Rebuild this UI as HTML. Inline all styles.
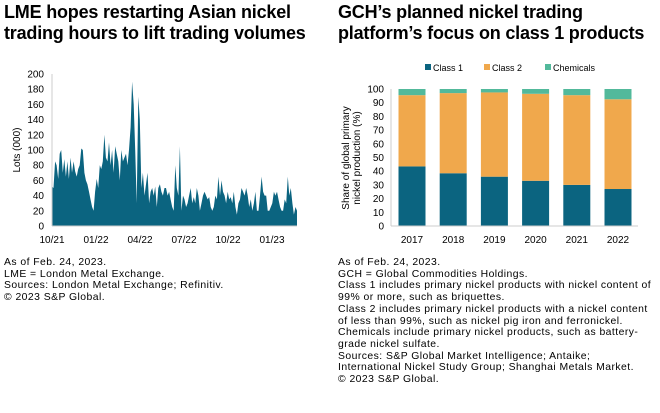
<!DOCTYPE html>
<html><head><meta charset="utf-8"><style>
body{margin:0;width:660px;height:413px;background:#fff;font-family:"Liberation Sans",sans-serif;color:#000;overflow:hidden;position:relative}
.t{position:absolute;font-weight:bold;font-size:18px;line-height:21px;letter-spacing:-0.2px}
.n{position:absolute;font-size:10.4px;line-height:11.7px;letter-spacing:0.45px}
svg{position:absolute;left:0;top:0}
</style></head><body>
<div class="t" style="left:4px;top:2px">LME hopes restarting Asian nickel<br>trading hours to lift trading volumes</div>
<div class="t" style="left:338px;top:2px">GCH’s planned nickel trading<br>platform’s focus on class 1 products</div>
<div class="n" style="left:4px;top:257px">As of Feb. 24, 2023.<br>LME = London Metal Exchange.<br>Sources: London Metal Exchange; Refinitiv.<br>© 2023 S&amp;P Global.</div>
<div class="n" style="left:338px;top:257px">As of Feb. 24, 2023.<br>GCH = Global Commodities Holdings.<br>Class 1 includes primary nickel products with nickel content of<br>99% or more, such as briquettes.<br>Class 2 includes primary nickel products with a nickel content<br>of less than 99%, such as nickel pig iron and ferronickel.<br>Chemicals include primary nickel products, such as battery-<br>grade nickel sulfate.<br>Sources: S&amp;P Global Market Intelligence; Antaike;<br>International Nickel Study Group; Shanghai Metals Market.<br>© 2023 S&amp;P Global.</div>
<svg id="c" width="660" height="413"></svg>
<script>
const lots=[52,50,85,80,62,95,100,70,88,65,85,62,90,70,85,72,65,75,80,102,100,70,60,55,45,35,25,20,45,62,50,80,75,85,120,90,85,110,80,100,70,105,95,85,60,100,85,90,95,80,100,130,190,160,100,30,170,140,50,70,40,55,70,30,45,50,40,52,25,50,55,45,40,50,50,40,45,35,25,20,80,50,40,105,20,40,35,25,30,40,50,30,38,30,50,40,20,30,40,45,40,35,38,25,20,25,40,35,65,40,60,45,40,30,45,35,38,30,45,25,15,30,35,50,45,40,50,40,25,35,20,30,45,20,20,40,65,45,40,40,20,20,25,30,45,40,45,35,25,20,20,35,30,65,40,50,30,15,25,20];
const leftTicks=[0,20,40,60,80,100,120,140,160,180,200];
const dateLabels=["10/21","01/22","04/22","07/22","10/22","01/23"];
const years=["2017","2018","2019","2020","2021","2022"];
const class1=[43.5,38.5,36,33,30,27];
const class2=[52,58.5,61.5,63.5,65.5,65.5];
const chem=[4.5,3,2.5,3.5,4.5,7.5];
const rightTicks=[0,10,20,30,40,50,60,70,80,90,100];
const svg=document.getElementById('c');const NS='http://www.w3.org/2000/svg';
function mk(t,a,txt){const e=document.createElementNS(NS,t);for(const k in a)e.setAttribute(k,a[k]);if(txt!==undefined)e.textContent=txt;svg.appendChild(e);return e;}
// left chart
const lx0=52,lx1=297,ly0=226,ly1=74;
const ly=v=>ly0-(v/200)*(ly0-ly1);
const lx=i=>lx0+i*(lx1-lx0)/(lots.length-1);
leftTicks.forEach(v=>{const e=mk('text',{x:44,y:ly(v)+3.5,'text-anchor':'end','font-size':10,'font-family':'Liberation Sans'},v);

});
let d=`M${lx0},${ly0}`;lots.forEach((v,i)=>d+=` L${lx(i).toFixed(1)},${ly(v).toFixed(1)}`);d+=` L${lx1},${ly0}Z`;
const ar=mk('path',{d:d,fill:'#0b6480'});


mk('line',{x1:lx0,y1:ly1,x2:lx0,y2:ly0,stroke:'#ccc'});
mk('line',{x1:lx0,y1:ly0,x2:lx1,y2:ly0,stroke:'#ccc'});
dateLabels.forEach((s,i)=>{const e=mk('text',{x:lx0+i*44,y:243,'text-anchor':'middle','font-size':10,'font-family':'Liberation Sans'},s);

});
const yt=mk('text',{transform:`translate(20,150) rotate(-90)`,'text-anchor':'middle','font-size':10,'font-family':'Liberation Sans'},'Lots (000)');


// right chart
const rx0=391,rx1=638,ry0=226,ry1=89;
const ry=v=>ry0-(v/100)*(ry0-ry1);
const bw=27,step=41.2,bx=i=>412+i*step;
rightTicks.forEach(v=>{const e=mk('text',{x:384,y:ry(v)+3.5,'text-anchor':'end','font-size':10,'font-family':'Liberation Sans'},v);

});
const cols=['#0b6480','#f0a84c','#52b99b'];
years.forEach((y,i)=>{let base=0;[class1[i],class2[i],chem[i]].forEach((v,k)=>{
const r=mk('rect',{x:bx(i)-bw/2,y:ry(base+v),width:bw,height:ry(base)-ry(base+v),fill:cols[k]});


base+=v;});
const t=mk('text',{x:bx(i),y:243,'text-anchor':'middle','font-size':10,'font-family':'Liberation Sans'},y);

});
mk('line',{x1:rx0,y1:ry1,x2:rx0,y2:ry0,stroke:'#ccc'});
mk('line',{x1:rx0,y1:ry0,x2:rx1,y2:ry0,stroke:'#ccc'});
const t1=mk('text',{transform:`translate(349,158) rotate(-90)`,'text-anchor':'middle','font-size':10,'font-family':'Liberation Sans'},'Share of global primary');


const t2=mk('text',{transform:`translate(360,158) rotate(-90)`,'text-anchor':'middle','font-size':10,'font-family':'Liberation Sans'},'nickel production (%)');


[['Class 1',425],['Class 2',484],['Chemicals',545]].forEach((l,k)=>{
const s=mk('rect',{x:l[1],y:64,width:6,height:6,fill:cols[k]});


const t=mk('text',{x:l[1]+8,y:71,'font-size':9,'font-family':'Liberation Sans'},l[0]);

});
</script>
</body></html>
